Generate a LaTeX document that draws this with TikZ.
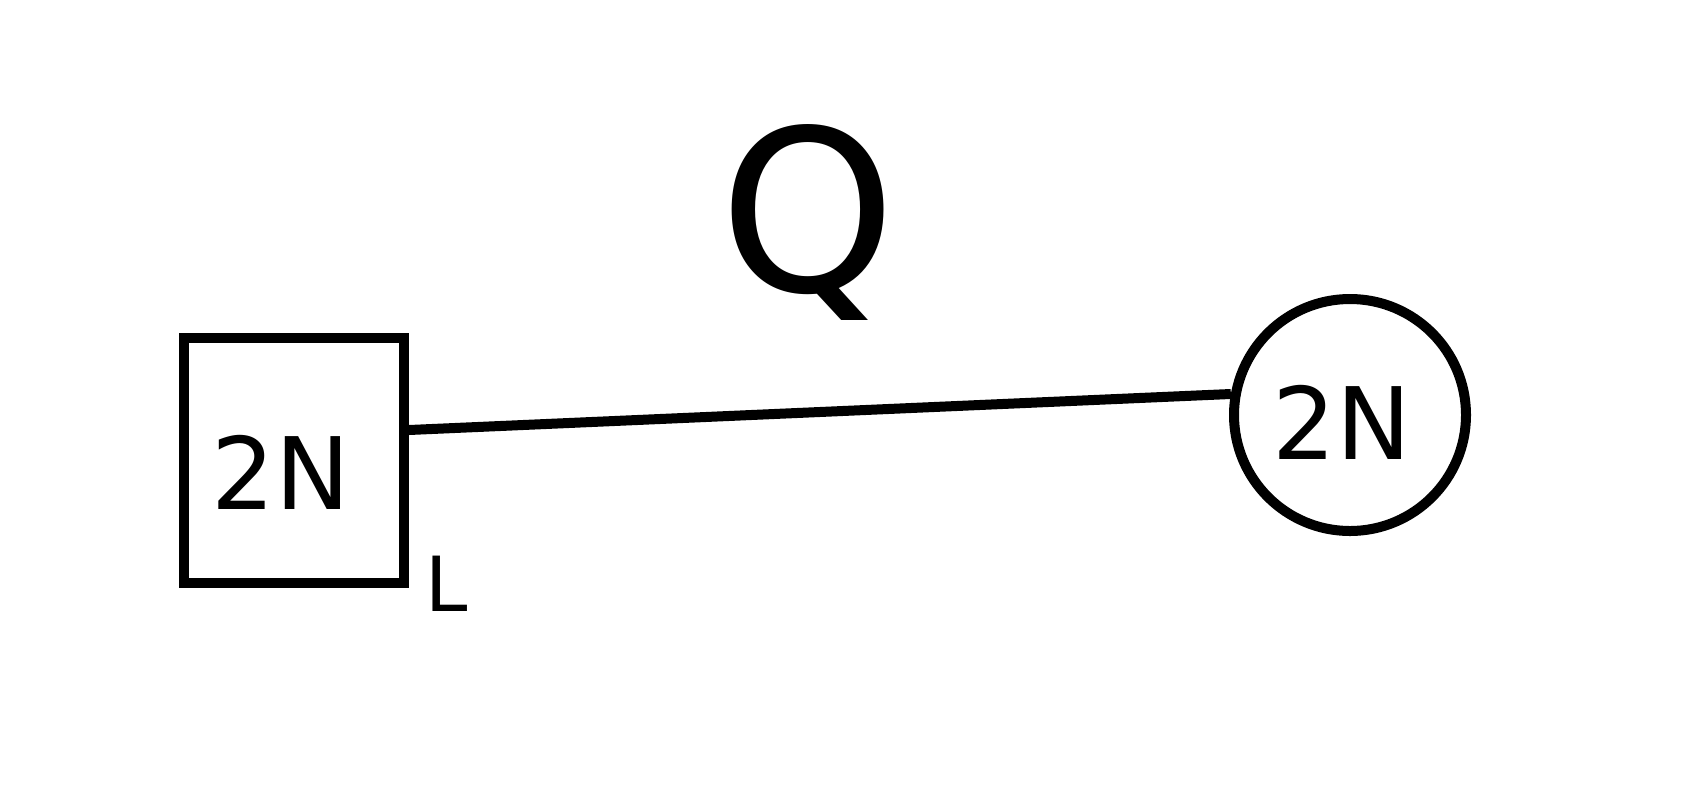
\documentclass[tikz,border=0pt]{standalone}
\usepackage{fontspec}
\setmainfont{DejaVu Sans}
\begin{document}
\begin{tikzpicture}[x=1pt,y=-1pt,
  ink/.style={line width=10pt,draw=black},
  lbl/.style={font=\fontsize{100}{100}\selectfont,inner sep=0pt}]
\useasboundingbox (0,0) rectangle (1684,804);
\fill[white] (0,0) rectangle (1684,804);
\node[ink,rectangle,minimum width=220pt,minimum height=245pt,inner sep=0pt] (sq) at (294,460) {};
\node[lbl] (sqt) at (281,472) {2N};
\node[ink,circle,minimum size=232pt,inner sep=0pt] (ci) at (1350,415) {};
\node[lbl] (cit) at (1342,422) {2N};
\draw[ink] ([yshift=30pt]sq.east) -- (ci.170);
\node[font=\fontsize{225}{225}\selectfont,inner sep=0pt] (q) at (808,222) {Q};
\node[font=\fontsize{76}{76}\selectfont,inner sep=0pt] (l) at (447,584) {L};
\end{tikzpicture}
\end{document}
